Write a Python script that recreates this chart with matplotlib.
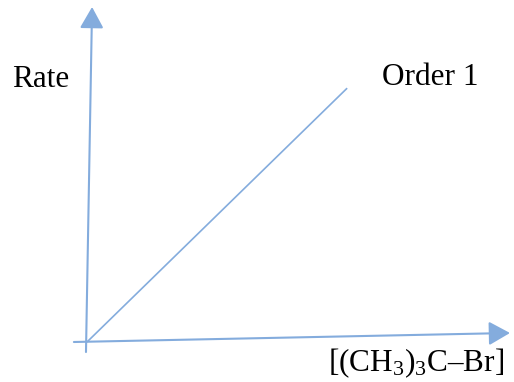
import matplotlib
matplotlib.use("Agg")
import matplotlib.pyplot as plt

# schematic data: first order -> rate grows linearly with concentration
conc = [0, 6.15]
rate = [0, 7.6]

x_label = "[(CH$_3$)$_3$C\u2013Br]"
y_label = "Rate"
line_label = "Order 1"

blue = "#84acdd"
W, H = 514, 382

plt.rcParams['font.family'] = ['Liberation Serif', 'DejaVu Serif']
plt.rcParams['mathtext.fontset'] = 'custom'
plt.rcParams['mathtext.rm'] = 'Liberation Serif'
plt.rcParams['mathtext.it'] = 'Liberation Serif'

fig = plt.figure(figsize=(W / 100, H / 100), dpi=100)
# origin of the plot sits at pixel (87, 342)
ax = fig.add_axes([87 / W, (H - 342) / H, 423 / W, 334 / H])
ax.set_xlim(0, 10)
ax.set_ylim(0, 10)
ax.axis("off")

ax.plot(conc, rate, color=blue, lw=1.2, solid_capstyle="butt", clip_on=False)

# hand drawn looking axes (slightly tilted, like the original)
arrow = dict(arrowstyle="-|>,head_length=0.5,head_width=0.28", color=blue, lw=1.5,
             mutation_scale=26, shrinkA=0, shrinkB=0)
ax.annotate("", xy=(0.012, 1.003), xytext=(-0.0024, -0.03),
            xycoords="axes fraction", textcoords="axes fraction", arrowprops=arrow)
ax.annotate("", xy=(1.0, 0.027), xytext=(-0.031, 0.0),
            xycoords="axes fraction", textcoords="axes fraction", arrowprops=arrow)

fs = 22.5
fig.text(12 / W, 1 - 87 / H, y_label, fontsize=fs, va="baseline", ha="left")
fig.text(382 / W, 1 - 85 / H, line_label, fontsize=fs, va="baseline", ha="left")
fig.text(328 / W, 1 - 371 / H, x_label, fontsize=fs, va="baseline", ha="left")

fig.savefig("out.png", dpi=100)
